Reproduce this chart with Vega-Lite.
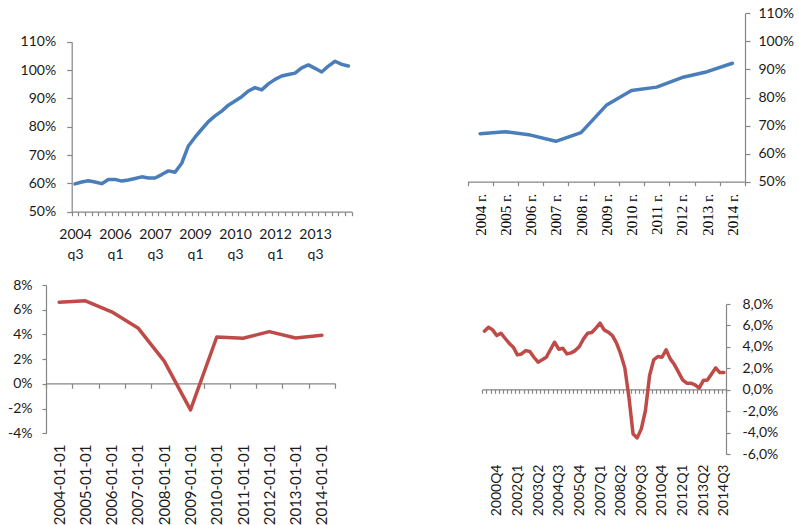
{
  "$schema": "https://vega.github.io/schema/vega-lite/v6.json",
  "width": 799,
  "height": 525,
  "autosize": {"type": "none"},
  "padding": 0,
  "background": "white",
  "config": {
    "view": {"stroke": null},
    "axis": {
      "domainColor": "#868686",
      "tickColor": "#868686",
      "domainWidth": 1.2,
      "tickWidth": 1.2,
      "labelColor": "#1a1a1a",
      "labelFont": "Lato",
      "labelFontSize": 14,
      "grid": false
    }
  },
  "datasets": {
    "quarterly": [
      {"q": "2004 q3", "v": 59.8}, {"q": "2004 q4", "v": 60.5}, {"q": "2005 q1", "v": 60.9}, {"q": "2005 q2", "v": 60.5},
      {"q": "2005 q3", "v": 59.9}, {"q": "2005 q4", "v": 61.4}, {"q": "2006 q1", "v": 61.4}, {"q": "2006 q2", "v": 60.8},
      {"q": "2006 q3", "v": 61.2}, {"q": "2006 q4", "v": 61.7}, {"q": "2007 q1", "v": 62.3}, {"q": "2007 q2", "v": 61.9},
      {"q": "2007 q3", "v": 61.9}, {"q": "2007 q4", "v": 63.1}, {"q": "2008 q1", "v": 64.4}, {"q": "2008 q2", "v": 63.9},
      {"q": "2008 q3", "v": 67.1}, {"q": "2008 q4", "v": 73.2}, {"q": "2009 q1", "v": 76.3}, {"q": "2009 q2", "v": 79.1},
      {"q": "2009 q3", "v": 81.8}, {"q": "2009 q4", "v": 83.8}, {"q": "2010 q1", "v": 85.5}, {"q": "2010 q2", "v": 87.6},
      {"q": "2010 q3", "v": 89.1}, {"q": "2010 q4", "v": 90.6}, {"q": "2011 q1", "v": 92.6}, {"q": "2011 q2", "v": 93.8},
      {"q": "2011 q3", "v": 93.0}, {"q": "2011 q4", "v": 95.1}, {"q": "2012 q1", "v": 96.7}, {"q": "2012 q2", "v": 97.9},
      {"q": "2012 q3", "v": 98.4}, {"q": "2012 q4", "v": 98.9}, {"q": "2013 q1", "v": 100.8}, {"q": "2013 q2", "v": 101.8},
      {"q": "2013 q3", "v": 100.6}, {"q": "2013 q4", "v": 99.3}, {"q": "2014 q1", "v": 101.4}, {"q": "2014 q2", "v": 103.1},
      {"q": "2014 q3", "v": 102.0}, {"q": "2014 q4", "v": 101.4}
    ],
    "annual": [
      {"year": "2004 г.", "v": 67.1}, {"year": "2005 г.", "v": 67.8}, {"year": "2006 г.", "v": 66.6},
      {"year": "2007 г.", "v": 64.4}, {"year": "2008 г.", "v": 67.5}, {"year": "2009 г.", "v": 77.2},
      {"year": "2010 г.", "v": 82.5}, {"year": "2011 г.", "v": 83.7}, {"year": "2012 г.", "v": 87.1},
      {"year": "2013 г.", "v": 89.2}, {"year": "2014 г.", "v": 92.2}
    ],
    "growth": [
      {"date": "2004-01-01", "v": 6.61}, {"date": "2005-01-01", "v": 6.72}, {"date": "2006-01-01", "v": 5.83},
      {"date": "2007-01-01", "v": 4.53}, {"date": "2008-01-01", "v": 1.84}, {"date": "2009-01-01", "v": -2.11},
      {"date": "2010-01-01", "v": 3.79}, {"date": "2011-01-01", "v": 3.69}, {"date": "2012-01-01", "v": 4.23},
      {"date": "2013-01-01", "v": 3.71}, {"date": "2014-01-01", "v": 3.93}
    ],
    "growthq": [
      {"q": "2000Q1", "v": 5.47}, {"q": "2000Q2", "v": 5.84}, {"q": "2000Q3", "v": 5.59}, {"q": "2000Q4", "v": 5.06},
      {"q": "2001Q1", "v": 5.28}, {"q": "2001Q2", "v": 4.81}, {"q": "2001Q3", "v": 4.35}, {"q": "2001Q4", "v": 3.98},
      {"q": "2002Q1", "v": 3.26}, {"q": "2002Q2", "v": 3.35}, {"q": "2002Q3", "v": 3.66}, {"q": "2002Q4", "v": 3.57},
      {"q": "2003Q1", "v": 3.04}, {"q": "2003Q2", "v": 2.58}, {"q": "2003Q3", "v": 2.8}, {"q": "2003Q4", "v": 3.04},
      {"q": "2004Q1", "v": 3.76}, {"q": "2004Q2", "v": 4.44}, {"q": "2004Q3", "v": 3.79}, {"q": "2004Q4", "v": 3.88},
      {"q": "2005Q1", "v": 3.35}, {"q": "2005Q2", "v": 3.45}, {"q": "2005Q3", "v": 3.66}, {"q": "2005Q4", "v": 4.04},
      {"q": "2006Q1", "v": 4.75}, {"q": "2006Q2", "v": 5.28}, {"q": "2006Q3", "v": 5.34}, {"q": "2006Q4", "v": 5.75},
      {"q": "2007Q1", "v": 6.21}, {"q": "2007Q2", "v": 5.59}, {"q": "2007Q3", "v": 5.37}, {"q": "2007Q4", "v": 5.06},
      {"q": "2008Q1", "v": 4.35}, {"q": "2008Q2", "v": 3.35}, {"q": "2008Q3", "v": 2.05}, {"q": "2008Q4", "v": -0.68},
      {"q": "2009Q1", "v": -4.1}, {"q": "2009Q2", "v": -4.47}, {"q": "2009Q3", "v": -3.63}, {"q": "2009Q4", "v": -1.92},
      {"q": "2010Q1", "v": 1.34}, {"q": "2010Q2", "v": 2.8}, {"q": "2010Q3", "v": 3.11}, {"q": "2010Q4", "v": 3.04},
      {"q": "2011Q1", "v": 3.73}, {"q": "2011Q2", "v": 2.89}, {"q": "2011Q3", "v": 2.36}, {"q": "2011Q4", "v": 1.65},
      {"q": "2012Q1", "v": 0.93}, {"q": "2012Q2", "v": 0.62}, {"q": "2012Q3", "v": 0.62}, {"q": "2012Q4", "v": 0.47},
      {"q": "2013Q1", "v": 0.16}, {"q": "2013Q2", "v": 0.87}, {"q": "2013Q3", "v": 0.93}, {"q": "2013Q4", "v": 1.49},
      {"q": "2014Q1", "v": 2.05}, {"q": "2014Q2", "v": 1.61}, {"q": "2014Q3", "v": 1.61}
    ]
  },
  "layer": [
    {
      "data": {"name": "quarterly"},
      "mark": {"type": "line", "color": "#4a7ebb", "strokeWidth": 3.5, "strokeJoin": "round", "strokeCap": "round"},
      "encoding": {
        "x": {
          "field": "q", "type": "ordinal", "sort": null, "bandPosition": 0.5, "title": null,
          "scale": {"type": "band", "range": [71.7, 351.7], "paddingInner": 0, "paddingOuter": 0},
          "axis": {
            "orient": "bottom", "offset": -313.3, "tickBand": "extent", "tickSize": 4,
            "labelAngle": 0, "labelPadding": 12, "labelLineHeight": 20, "labelOverlap": false,
            "labelExpr": "indexof(['2004 q3','2006 q1','2007 q3','2009 q1','2010 q3','2012 q1','2013 q3'], datum.value) >= 0 ? split(datum.value, ' ') : ''"
          }
        },
        "y": {
          "field": "v", "type": "quantitative", "title": null,
          "scale": {"domain": [50, 110], "range": [211.7, 41.7], "nice": false, "zero": false},
          "axis": {"orient": "left", "offset": -71.7, "values": [50, 60, 70, 80, 90, 100, 110], "tickSize": 5, "labelPadding": 11, "labelExpr": "datum.value + '%'"}
        }
      }
    },
    {
      "data": {"name": "annual"},
      "mark": {"type": "line", "color": "#4a7ebb", "strokeWidth": 3.5, "strokeJoin": "round", "strokeCap": "round"},
      "encoding": {
        "x": {
          "field": "year", "type": "ordinal", "sort": null, "bandPosition": 0.5, "title": null,
          "scale": {"type": "band", "range": [467.5, 745], "paddingInner": 0, "paddingOuter": 0},
          "axis": {
            "orient": "bottom", "offset": -343.3, "tickBand": "extent", "tickSize": 4,
            "labelAngle": -90, "labelPadding": 7.5, "labelOverlap": false,
            "labelFont": "Liberation Serif", "labelFontSize": 15, "labelColor": "#000000"
          }
        },
        "y": {
          "field": "v", "type": "quantitative", "title": null,
          "scale": {"domain": [50, 110], "range": [181.7, 13.3], "nice": false, "zero": false},
          "axis": {"orient": "right", "offset": -54, "values": [50, 60, 70, 80, 90, 100, 110], "tickSize": 5, "labelPadding": 8, "labelExpr": "datum.value + '%'"}
        }
      }
    },
    {
      "data": {"name": "growth"},
      "mark": {"type": "line", "color": "#be4b48", "strokeWidth": 3.5, "strokeJoin": "round", "strokeCap": "round"},
      "encoding": {
        "x": {
          "field": "date", "type": "ordinal", "sort": null, "bandPosition": 0.5, "title": null,
          "scale": {"type": "band", "range": [46, 335], "paddingInner": 0, "paddingOuter": 0},
          "axis": {
            "orient": "bottom", "offset": -141.7, "tickBand": "extent", "tickSize": 5,
            "labelAngle": -90, "labelPadding": 55.7, "labelOverlap": false, "labelFontSize": 15
          }
        },
        "y": {
          "field": "v", "type": "quantitative", "title": null,
          "scale": {"domain": [-4, 8], "range": [433.3, 285], "nice": false, "zero": false},
          "axis": {"orient": "left", "offset": -46, "values": [-4, -2, 0, 2, 4, 6, 8], "tickSize": 4, "labelPadding": 10, "labelExpr": "datum.value + '%'"}
        }
      }
    },
    {
      "data": {"name": "growthq"},
      "mark": {"type": "line", "color": "#be4b48", "strokeWidth": 3.5, "strokeJoin": "round", "strokeCap": "round"},
      "encoding": {
        "x": {
          "field": "q", "type": "ordinal", "sort": null, "bandPosition": 0.5, "title": null,
          "scale": {"type": "band", "range": [482.3, 726], "paddingInner": 0, "paddingOuter": 0},
          "axis": {
            "orient": "bottom", "offset": -135.7, "tickBand": "extent", "tickSize": 4,
            "labelAngle": -90, "labelPadding": 70.7, "labelOverlap": false,
            "labelExpr": "indexof(['2000Q4','2002Q1','2003Q2','2004Q3','2005Q4','2007Q1','2008Q2','2009Q3','2010Q4','2012Q1','2013Q2','2014Q3'], datum.value) >= 0 ? datum.value : ''"
          }
        },
        "y": {
          "field": "v", "type": "quantitative", "title": null,
          "scale": {"domain": [-6, 8], "range": [454.3, 304], "nice": false, "zero": false},
          "axis": {"orient": "right", "offset": -73, "values": [-6, -4, -2, 0, 2, 4, 6, 8], "tickSize": 4, "labelPadding": 12,
            "labelExpr": "(datum.value < 0 ? '-' : '') + replace(format(abs(datum.value), '.1f'), '.', ',') + '%'"}
        }
      }
    }
  ],
  "resolve": {
    "scale": {"x": "independent", "y": "independent"},
    "axis": {"x": "independent", "y": "independent"}
  }
}
